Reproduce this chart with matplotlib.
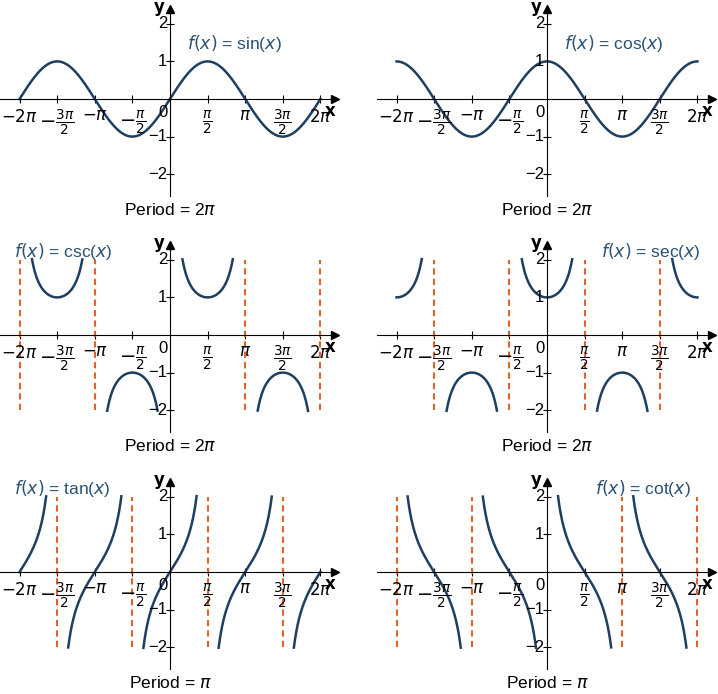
import numpy as np
import matplotlib
matplotlib.use("Agg")
import matplotlib.pyplot as plt

plt.rcParams['font.family'] = ['Liberation Sans', 'DejaVu Sans']
plt.rcParams['mathtext.fontset'] = 'dejavusans'

PI = np.pi
curve_color = "#1f3f60"
asym_color = "#e0632c"
title_color = "#2a5275"

names = ["sin", "cos", "csc", "sec", "tan", "cot"]
titles = ["$f(x)$ = sin($x$)", "$f(x)$ = cos($x$)", "$f(x)$ = csc($x$)",
          "$f(x)$ = sec($x$)", "$f(x)$ = tan($x$)", "$f(x)$ = cot($x$)"]
periods = ["Period = 2$\\pi$", "Period = 2$\\pi$", "Period = 2$\\pi$",
           "Period = 2$\\pi$", "Period = $\\pi$", "Period = $\\pi$"]
asymptotes = {
    "sin": [], "cos": [],
    "csc": [-2 * PI, -PI, PI, 2 * PI],
    "sec": [-3 * PI / 2, -PI / 2, PI / 2, 3 * PI / 2],
    "tan": [-3 * PI / 2, -PI / 2, PI / 2, 3 * PI / 2],
    "cot": [-2 * PI, -PI, PI, 2 * PI],
}
xticks = [-2 * PI, -3 * PI / 2, -PI, -PI / 2, PI / 2, PI, 3 * PI / 2, 2 * PI]
xticklabels = ["$-2\\pi$", "$-\\frac{3\\pi}{2}$", "$-\\pi$", "$-\\frac{\\pi}{2}$",
               "$\\frac{\\pi}{2}$", "$\\pi$", "$\\frac{3\\pi}{2}$", "$2\\pi$"]
yticks = [-2, -1, 1, 2]
# title position (fraction of axes)
title_pos = [(0.55, 0.76), (0.55, 0.76), (0.04, 0.9), (0.66, 0.9), (0.04, 0.9), (0.64, 0.9)]

funcs = {
    "sin": np.sin, "cos": np.cos,
    "csc": lambda x: 1 / np.sin(x), "sec": lambda x: 1 / np.cos(x),
    "tan": np.tan, "cot": lambda x: 1 / np.tan(x),
}

fig = plt.figure(figsize=(7.18, 6.94), dpi=100)
W, H = 718, 694
centers_x = [170, 547]
centers_y = [99, 335, 572]
XL = 7.1

for i, name in enumerate(names):
    cx = centers_x[i % 2]
    cy = centers_y[i // 2]
    ax = fig.add_axes([(cx - 170) / W, 1 - (cy + 97) / H, 340 / W, 194 / H])
    ax.set_xlim(-XL, XL)
    ax.set_ylim(-2.58, 2.58)
    for s in ["top", "right"]:
        ax.spines[s].set_visible(False)
    ax.spines["left"].set_position(("data", 0))
    ax.spines["bottom"].set_position(("data", 0))
    ax.spines["left"].set_bounds(-2.58, 2.4)
    ax.spines["bottom"].set_bounds(-XL, 6.9)
    ax.patch.set_alpha(0)
    ax.plot(6.9, 0, ">k", markersize=6, clip_on=False)
    ax.plot(0, 2.4, "^k", markersize=6, clip_on=False)
    ax.text(6.95, -0.12, "$\\mathbf{x}$", fontsize=12, ha="right", va="top", style="italic")
    ax.text(-0.2, 2.4, "$\\mathbf{y}$", fontsize=12, ha="right", va="center")

    ax.set_xticks(xticks)
    ax.set_xticklabels([])
    ax.set_yticks(yticks)
    ax.set_yticklabels([])
    ax.tick_params(direction="inout", length=6, width=0.8)
    for xt, lab in zip(xticks, xticklabels):
        frac = "frac" in lab
        ax.text(xt, -0.25, lab, fontsize=14 if frac else 12, ha="center", va="top")
    for yt in yticks:
        ax.text(-0.12, yt, str(yt).replace("-", "\u2212"), fontsize=12, ha="right", va="center")
    ax.text(-0.1, -0.15, "0", fontsize=12, ha="right", va="top")

    x = np.linspace(-2 * PI, 2 * PI, 4000)
    with np.errstate(divide="ignore"):
        y = funcs[name](x)
    y[np.abs(y) > 2.02] = np.nan
    ax.plot(x, y, color=curve_color, lw=1.8)
    for a in asymptotes[name]:
        ax.plot([a, a], [-2, 2], color=asym_color, lw=1.5, ls=(0, (3, 2)))

    tx, ty = title_pos[i]
    ax.text(tx, ty, titles[i], transform=ax.transAxes, fontsize=12.5, color=title_color)
    fig.text(cx / W, 1 - (cy + 111) / H, periods[i], fontsize=12.5, ha="center", va="center")

fig.savefig("out.png", dpi=100)
